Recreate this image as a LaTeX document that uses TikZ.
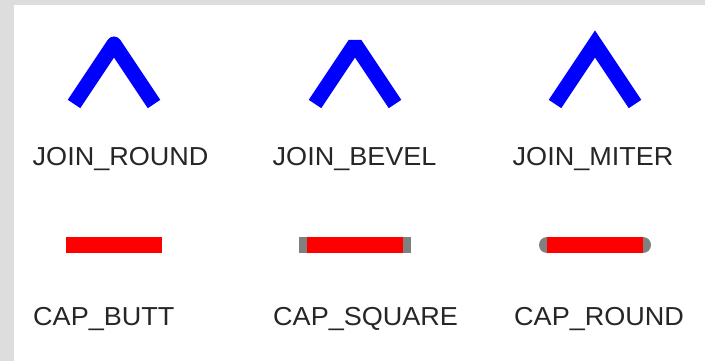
\documentclass[tikz,border=0pt]{standalone}
\usepackage{fontspec}
\newfontfamily\labelfont[FakeStretch=1.04]{Liberation Sans}
\definecolor{framegray}{RGB}{221,221,221}
\definecolor{capgray}{RGB}{128,128,128}

\begin{document}
\begin{tikzpicture}[
  x=1pt, y=-1pt,
  every node/.style={font=\labelfont\fontsize{26}{30}\selectfont, text=black!85, anchor=base west, inner sep=0pt},
  joinline/.style={draw=blue, line width=15pt, line cap=butt},
  capline/.style={draw=red, line width=16pt, line cap=butt},
  capshadow/.style={draw=capgray, line width=16pt},
]
% ---- frame ----
\fill[framegray] (0,0) rectangle (705,361);
\fill[white] (14,5) rectangle (705,361);
\useasboundingbox (0,0) rectangle (705,361);

% ---- join chevrons (left end, apex, right end) ----
\coordinate (rl) at (74,104);  \coordinate (rt) at (114,44);  \coordinate (rr) at (154,104);
\coordinate (bl) at (315,104); \coordinate (bt) at (355,44);  \coordinate (br) at (395,104);
\coordinate (ml) at (555,104); \coordinate (mt) at (595,44);  \coordinate (mr) at (635,104);

\draw[joinline, line join=round] (rl) -- (rt) -- (rr);
\draw[joinline, line join=bevel] (bl) -- (bt) -- (br);
\draw[joinline, line join=miter] (ml) -- (mt) -- (mr);

% ---- cap lines: gray = stroke with the cap, red = bare segment on top ----
\coordinate (b1) at (66,245);  \coordinate (b2) at (162,245);
\coordinate (s1) at (307,245); \coordinate (s2) at (403,245);
\coordinate (o1) at (547,245); \coordinate (o2) at (643,245);

\draw[capline] (b1) -- (b2);
\draw[capshadow, line cap=rect] (s1) -- (s2);
\draw[capline] (s1) -- (s2);
\draw[capshadow, line cap=round] (o1) -- (o2);
\draw[capline] (o1) -- (o2);

% ---- labels ----
\node (jround) at (32.5,165) {JOIN\_ROUND};
\node (jbevel) at (272.5,165) {JOIN\_BEVEL};
\node (jmiter) at (512.5,165) {JOIN\_MITER};
\node (cbutt) at (33,325) {CAP\_BUTT};
\node (csquare) at (273,325) {CAP\_SQUARE};
\node (cround) at (514,325) {CAP\_ROUND};

\end{tikzpicture}
\end{document}
